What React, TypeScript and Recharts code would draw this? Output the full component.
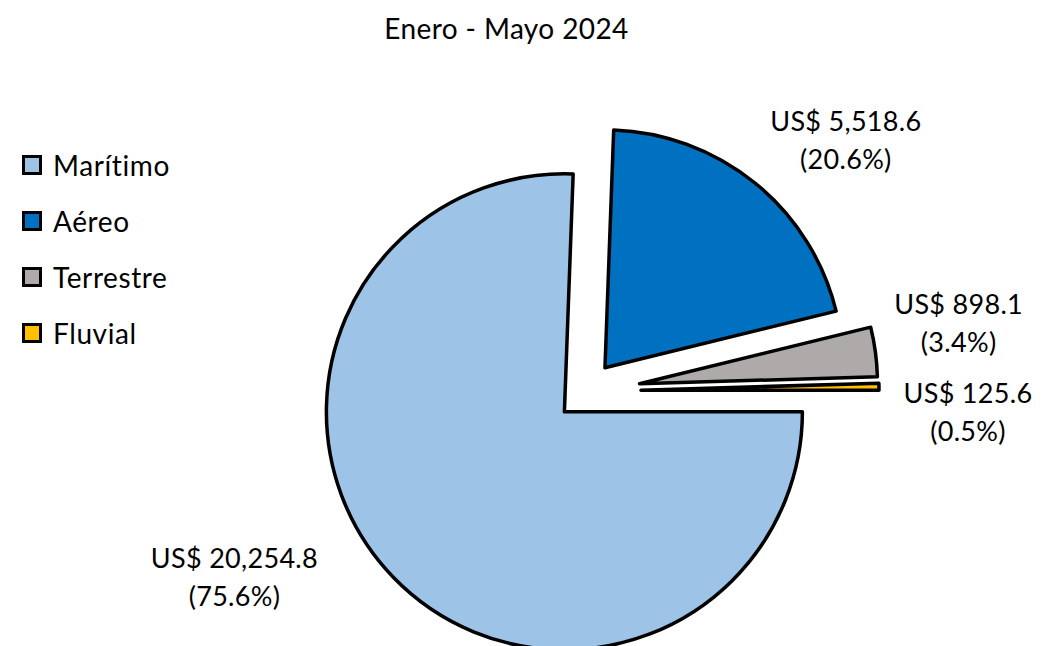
import React from 'react';
import { PieChart, Pie, Cell, Legend } from 'recharts';

const title = 'Enero - Mayo 2024';
const categories = ['Marítimo', 'Aéreo', 'Terrestre', 'Fluvial'];
const values = [20254.8, 5518.6, 898.1, 125.6];
const valueLabels = ['US$ 20,254.8', 'US$ 5,518.6', 'US$ 898.1', 'US$ 125.6'];
const percentLabels = ['(75.6%)', '(20.6%)', '(3.4%)', '(0.5%)'];

const COLORS = ['#9DC3E6', '#0070C0', '#AEAAAA', '#FFC000'];
const EXPLODE = [30, 30, 54, 55];
const LABEL_NUDGE: [number, number][] = [[-101, -55], [40, 20], [4, -17], [9, 27]];

const FONT = 'Lato, "Noto Sans", sans-serif';
const W = 1057;
const H = 646;
const CX = 586;
const CY = 391;
const R = 238;
const START = 0;
const END = -360;
const RAD = Math.PI / 180;

const data = categories.map((name, i) => ({ name, value: values[i] }));
const total = values.reduce((a, b) => a + b, 0);
const midAngles = (() => {
  let cum = 0;
  return values.map((v) => {
    const a0 = START + ((END - START) * cum) / total;
    cum += v;
    const a1 = START + ((END - START) * cum) / total;
    return (a0 + a1) / 2;
  });
})();

const makeLabel = (target: number) => (props: any) => {
  if (props.index !== target) return null;
  const { cx, cy, midAngle, outerRadius } = props;
  const rr = outerRadius + 80;
  const x = cx + rr * Math.cos(-midAngle * RAD) + LABEL_NUDGE[target][0];
  const y = cy + rr * Math.sin(-midAngle * RAD) + LABEL_NUDGE[target][1];
  return (
    <g>
      <text x={x} y={y - 10} textAnchor="middle" fontFamily={FONT} fontSize={27} letterSpacing={0.3} fill="#000">
        {valueLabels[target]}
      </text>
      <text x={x} y={y + 28} textAnchor="middle" fontFamily={FONT} fontSize={27} letterSpacing={0.3} fill="#000">
        {percentLabels[target]}
      </text>
    </g>
  );
};

const renderLegend = () => (
  <div style={{ fontFamily: FONT, fontSize: 28, letterSpacing: 0.6, color: '#000' }}>
    {categories.map((c, i) => (
      <div key={c} style={{ display: 'flex', alignItems: 'center', height: 56 }}>
        <span
          style={{
            display: 'inline-block',
            width: 14,
            height: 14,
            border: '3px solid #000',
            background: COLORS[i],
            marginRight: 11,
            boxSizing: 'content-box',
            flex: 'none',
          }}
        />
        <span>{c}</span>
      </div>
    ))}
  </div>
);

export default function App() {
  return (
    <div style={{ position: 'absolute', left: 0, top: 0, width: W, height: H, background: '#fff', overflow: 'hidden' }}>
      <div
        style={{
          position: 'absolute',
          left: 0,
          top: 13,
          width: 1013,
          textAlign: 'center',
          fontFamily: FONT,
          fontSize: 28,
          letterSpacing: 0.4,
          lineHeight: '30px',
          color: '#000',
        }}
      >
        {title}
      </div>
      <PieChart width={W} height={H} margin={{ top: 0, right: 0, bottom: 0, left: 0 }}>
        {categories.map((_, k) => (
          <Pie
            key={k}
            data={data}
            dataKey="value"
            nameKey="name"
            cx={CX + EXPLODE[k] * Math.cos(-midAngles[k] * RAD)}
            cy={CY + EXPLODE[k] * Math.sin(-midAngles[k] * RAD)}
            outerRadius={R}
            innerRadius={0}
            startAngle={START}
            endAngle={END}
            isAnimationActive={false}
            labelLine={false}
            label={makeLabel(k)}
            legendType="none"
          >
            {data.map((d, i) => (
              <Cell
                key={d.name}
                fill={i === k ? COLORS[i] : 'none'}
                stroke={i === k ? '#000' : 'none'}
                strokeWidth={i === k ? 3.5 : 0}
                strokeLinejoin="round"
              />
            ))}
          </Pie>
        ))}
        <Legend
          layout="horizontal"
          verticalAlign="middle"
          align="center"
          content={renderLegend}
          wrapperStyle={{ left: 22, top: 137, width: 220 }}
        />
      </PieChart>
    </div>
  );
}
